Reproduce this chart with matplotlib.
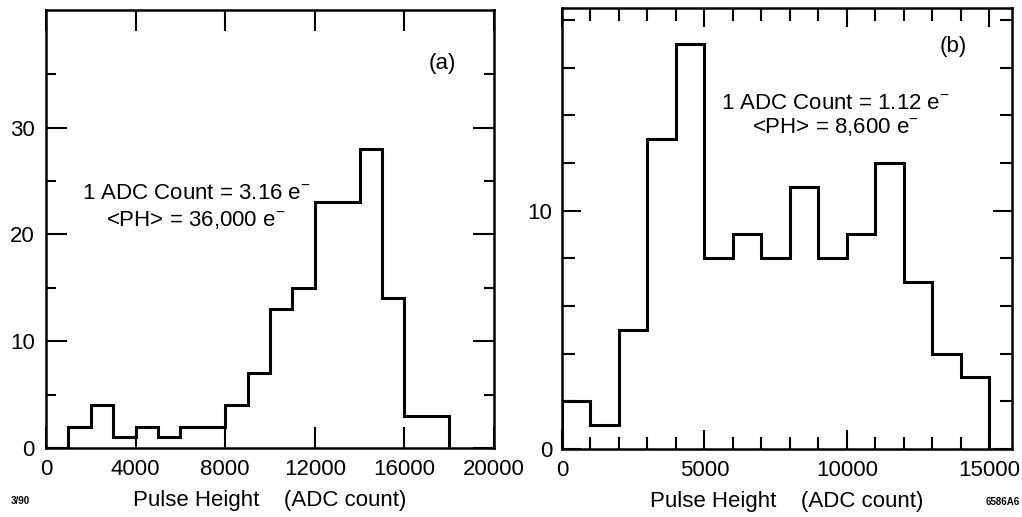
import matplotlib
matplotlib.use('Agg')
import matplotlib.pyplot as plt
from matplotlib.ticker import MultipleLocator, FixedLocator

plt.rcParams['font.family'] = ['Liberation Sans', 'DejaVu Sans']
plt.rcParams['mathtext.fontset'] = 'custom'
plt.rcParams['mathtext.rm'] = 'Liberation Sans'
plt.rcParams['mathtext.it'] = 'Liberation Sans'

# panel (a): 1000-count bins from 0 to 18000
edges_a = list(range(0, 19000, 1000))
counts_a = [0, 2, 4, 1, 2, 1, 2, 2, 4, 7, 13, 15, 23, 23, 28, 14, 3, 3]

# panel (b): 1000-count bins from 0 to 15000
edges_b = list(range(0, 16000, 1000))
counts_b = [2, 1, 5, 13, 17, 8, 9, 8, 11, 8, 9, 12, 7, 4, 3]

xlabel = "Pulse Height    (ADC count)"
notes_a = ["1 ADC Count = 3.16 e$^{-}$", "<PH> = 36,000 e$^{-}$"]
notes_b = ["1 ADC Count = 1.12 e$^{-}$", "<PH> = 8,600 e$^{-}$"]

fig = plt.figure(figsize=(10.22, 5.17), dpi=100)
ax1 = fig.add_axes([46 / 1022, 1 - 448 / 517, (494 - 46) / 1022, (448 - 10) / 517])
ax2 = fig.add_axes([562 / 1022, 1 - 449 / 517, (1012 - 562) / 1022, (449 - 8) / 517])

for ax in (ax1, ax2):
    for s in ax.spines.values():
        s.set_linewidth(1.8)
    ax.tick_params(which='both', direction='in', top=True, right=True,
                   width=1.5, labelsize=16, pad=8)
    ax.set_xlabel(xlabel, fontsize=16, labelpad=7)

# --- (a) ---
ax1.stairs(counts_a, edges_a, color='black', linewidth=2.2, baseline=0)
ax1.set_xlim(0, 20000)
ax1.set_ylim(0, 41)
ax1.set_xticks(range(0, 20001, 4000))
ax1.yaxis.set_major_locator(FixedLocator([0, 10, 20, 30]))
ax1.yaxis.set_minor_locator(FixedLocator([5, 15, 25, 35]))
ax1.tick_params(axis='x', which='major', length=15)
ax1.tick_params(axis='y', which='major', length=15)
ax1.tick_params(axis='y', which='minor', length=7.5)
ax1.text(17700, 36.0, "(a)", fontsize=16, ha='center', va='center')
ax1.text(6700, 23.8, notes_a[0], fontsize=16, ha='center', va='center')
ax1.text(6700, 21.3, notes_a[1], fontsize=16, ha='center', va='center')

# --- (b) ---
ax2.stairs(counts_b, edges_b, color='black', linewidth=2.2, baseline=0)
ax2.set_xlim(0, 15800)
ax2.set_ylim(0, 18.5)
ax2.xaxis.set_major_locator(MultipleLocator(5000))
ax2.xaxis.set_minor_locator(MultipleLocator(1000))
ax2.yaxis.set_major_locator(MultipleLocator(10))
ax2.yaxis.set_minor_locator(MultipleLocator(2))
ax2.tick_params(which='major', length=14)
ax2.tick_params(which='minor', length=9)
ax2.tick_params(axis='y', pad=7)
ax2.text(13720, 16.9, "(b)", fontsize=16, ha='center', va='center')
ax2.text(9610, 14.5, notes_b[0], fontsize=16, ha='center', va='center')
ax2.text(9610, 13.5, notes_b[1], fontsize=16, ha='center', va='center')

fig.text(20 / 1022, 1 - 501 / 517, "3/90", fontsize=7, fontweight='bold',
         ha='center', va='center')
fig.text(1003 / 1022, 1 - 502 / 517, "6586A6", fontsize=7, fontweight='bold',
         ha='center', va='center')

fig.savefig("out.png", dpi=100)
